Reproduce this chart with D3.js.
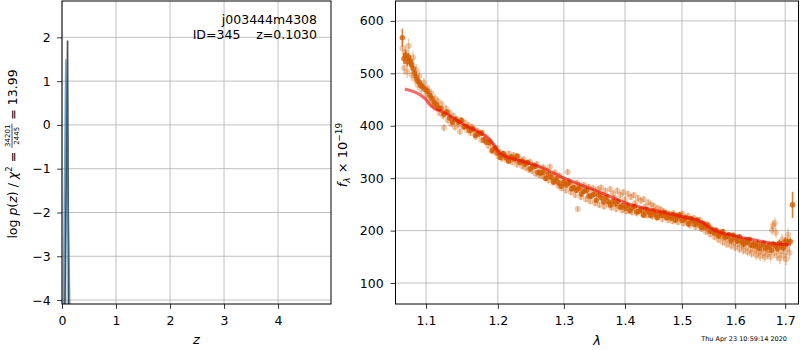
<!DOCTYPE html>
<html>
<head>
<meta charset="utf-8">
<script src="https://cdn.jsdelivr.net/npm/d3@7"></script>
<style>
  body { margin: 0; background: #fff; }
  svg { font-family: "DejaVu Sans", sans-serif; }
  .grid line { stroke: #b0b0b0; stroke-width: 0.8; }
  .axis path { display: none; }
  .axis line { stroke: #000; stroke-width: 0.8; }
  .axis text { font-size: 12.5px; fill: #000; font-family: "DejaVu Sans", sans-serif; }
  .pre { white-space: pre; }
</style>
</head>
<body>
<script>
// ---- left panel: log p(z) ----
var zTicks = [0, 1, 2, 3, 4];
var logpTicks = [-4, -3, -2, -1, 0, 1, 2];
var zFit = [0.03, 0.05, 0.103, 0.125, 0.14];
var logpFit = [-12, -4.6, 1.93, -4.6, -12];
var zPrior = [0.0, 0.02, 0.07, 0.15, 0.17];
var logpPrior = [-12, -4.6, 1.5, -4.6, -12];

// ---- right panel: spectrum ----
var waveTicks = [1.1, 1.2, 1.3, 1.4, 1.5, 1.6, 1.7];
var fluxTicks = [100, 200, 300, 400, 500, 600];

// model line
var modelWave = [1.072, 1.099, 1.105, 1.112, 1.122, 1.132, 1.153, 1.174, 1.188, 1.203, 1.213, 1.237, 1.268,
  1.295, 1.348, 1.404, 1.462, 1.499, 1.535, 1.548, 1.567, 1.599, 1.639, 1.673, 1.709];
var modelFlux = [470, 451, 440, 432, 427, 419, 401, 387, 374, 348, 341, 332, 319,
  303, 278, 252, 236, 227, 217, 208, 198, 190, 182, 176, 173];

// [wave, flux, err] - strong points
var darkPoints = [
  [1.0688,568,17],[1.071,528,10],[1.073,535,9],[1.075,522,9],[1.077,531,8],[1.079,524,8],[1.081,517,8],
  [1.083,509,7],[1.085,500,7],[1.087,493,7],[1.089,486,6],[1.091,483,6],[1.093,477,6],[1.096,474,6],
  [1.099,469,6],[1.102,466,5],[1.105,458,5],[1.108,452,5],[1.111,444,5],[1.114,440,5],[1.117,434,5],
  [1.120,433,5],[1.124,422,5],[1.128,426,5],[1.132,415,5],[1.136,407,5],[1.140,412,5],[1.144,407,5],
  [1.148,410,5],[1.152,398,5],[1.156,398,5],[1.160,391,5],[1.164,394,5],[1.168,382,5],[1.172,385,5],
  [1.176,386,5],[1.180,373,5],[1.184,369,5],[1.188,368,5],[1.192,353,5],[1.196,357,5],[1.200,348,5],
  [1.204,340,5],[1.208,347,5],[1.212,339,5],[1.216,333,5],[1.220,341,5],[1.224,337,5],[1.228,342,5],
  [1.232,331,5],[1.236,332,5],[1.240,327,5],[1.244,330,5],[1.248,318,5],[1.252,322,5],[1.256,323,5],
  [1.260,311,5],[1.264,310,5],[1.268,311,5],[1.272,300,5],[1.276,308,5],[1.280,302,5],[1.284,293,5],
  [1.288,299,5],[1.292,291,5],[1.296,285,5],[1.300,292,5],[1.304,287,5],[1.308,291,5],[1.312,280,5],
  [1.316,282,5],[1.320,277,5],[1.324,281,5],[1.328,270,5],[1.332,275,5],[1.336,277,5],[1.340,266,5],
  [1.344,266,5],[1.348,269,5],[1.352,258,5],[1.356,268,5],[1.360,263,5],[1.364,255,5],[1.368,263,5],
  [1.372,255,5],[1.376,249,5],[1.380,256,5],[1.384,251,5],[1.388,256,5],[1.392,245,5],[1.396,248,5],
  [1.400,243,5],[1.404,248,5],[1.408,238,5],[1.412,243,5],[1.416,246,5],[1.420,236,5],[1.424,237,5],
  [1.428,240,5],[1.432,230,5],[1.436,240,5],[1.440,236,5],[1.444,229,5],[1.448,237,5],[1.452,231,5],
  [1.456,225,5],[1.460,233,5],[1.464,229,5],[1.468,234,5],[1.472,225,5],[1.476,228,5],[1.480,224,5],
  [1.484,230,5],[1.488,220,5],[1.492,227,5],[1.496,230,5],[1.500,220,5],[1.504,221,5],[1.508,224,5],
  [1.512,213,5],[1.516,223,5],[1.520,219,5],[1.524,212,5],[1.528,220,5],[1.532,213,5],[1.536,206,5],
  [1.540,213,5],[1.544,207,5],[1.548,210,5],[1.552,199,5],[1.556,201,5],[1.560,196,5],[1.564,200,5],
  [1.568,190,5],[1.572,195,5],[1.576,198,5],[1.580,188,5],[1.584,189,5],[1.588,192,5],[1.592,181,5],
  [1.596,191,5],[1.600,187,5],[1.604,180,5],[1.608,188,5],[1.612,180,5],[1.616,174,5],[1.620,182,5],
  [1.624,178,5],[1.628,183,5],[1.632,172,5],[1.636,175,5],[1.640,171,5],[1.644,176,5],[1.648,166,5],
  [1.652,173,5],[1.656,176,5],[1.660,167,6],[1.664,169,6],[1.668,172,6],[1.672,163,6],[1.676,174,6],
  [1.680,171,7],[1.684,166,7],[1.688,176,7],[1.692,172,8],[1.696,168,8],[1.700,179,9],[1.704,178,9],
  [1.7103,179,8],[1.7151,249,25]
];

// [wave, flux, err] - faint points
var lightPoints = [
  [1.069,548,14],[1.071,510,13],[1.073,541,13],[1.075,503,12],[1.077,552,14],[1.079,518,12],[1.081,497,11],
  [1.083,530,12],[1.085,489,10],[1.087,507,11],[1.089,478,10],[1.091,495,10],[1.094,470,9],[1.097,482,9],
  [1.100,458,8],[1.102,471,8],[1.1045,449,8],[1.107,462,8],[1.109,441,7],[1.112,452,7],[1.1135,436,7],
  [1.116,447,7],[1.118,425,7],[1.121,441,7],[1.123,419,7],[1.124,396,7],[1.127,433,6],[1.129,411,6],
  [1.132,425,6],[1.134,404,6],[1.137,419,6],[1.139,397,6],[1.141,413,6],[1.144,402,6],[1.146,389,6],
  [1.148,411,6],[1.151,398,6],[1.153,406,6],[1.156,392,6],[1.158,401,6],[1.161,386,6],[1.163,398,6],
  [1.166,392,6],[1.168,379,6],[1.171,390,6],[1.173,384,6],[1.176,373,6],[1.178,386,6],[1.181,370,6],
  [1.183,378,6],[1.186,362,6],[1.188,371,6],[1.191,352,6],[1.193,363,6],[1.196,349,6],[1.198,357,6],
  [1.201,341,6],[1.203,350,6],[1.206,337,6],[1.208,346,6],[1.211,343,6],[1.213,334,6],[1.216,347,6],
  [1.218,336,6],[1.221,331,6],[1.223,344,6],[1.226,335,6],[1.228,326,6],[1.231,340,6],[1.233,330,6],
  [1.236,323,6],[1.238,336,6],[1.241,320,6],[1.243,329,6],[1.246,316,6],[1.248,331,6],[1.251,314,6],
  [1.253,324,6],[1.256,309,6],[1.258,327,6],[1.261,306,6],[1.263,318,6],[1.266,304,6],[1.268,321,6],
  [1.271,300,6],[1.273,314,6],[1.276,296,6],[1.278,322,6],[1.281,303,6],[1.283,292,6],[1.286,311,6],
  [1.288,295,6],[1.291,286,6],[1.293,305,6],[1.296,281,6],[1.298,298,6],[1.301,290,6],[1.303,277,6],
  [1.306,312,6],[1.308,294,6],[1.311,273,6],[1.313,288,6],[1.316,281,6],[1.318,268,6],[1.321,291,6],
  [1.322,241,6],[1.325,284,6],[1.327,264,6],[1.330,279,6],[1.332,287,6],[1.335,260,6],[1.337,276,6],
  [1.340,283,6],[1.342,256,6],[1.345,274,6],[1.347,281,6],[1.350,252,6],[1.352,271,6],[1.355,279,6],
  [1.357,249,6],[1.360,282,6],[1.362,268,6],[1.365,246,6],[1.367,276,6],[1.370,265,6],[1.372,250,6],
  [1.375,279,6],[1.377,244,6],[1.380,271,6],[1.382,262,6],[1.385,241,6],[1.387,276,6],[1.390,247,6],
  [1.392,268,6],[1.395,239,6],[1.397,273,6],[1.400,259,6],[1.402,237,6],[1.405,270,6],[1.407,244,6],
  [1.410,264,6],[1.412,235,6],[1.415,268,6],[1.417,252,6],[1.420,233,6],[1.422,262,6],[1.425,240,6],
  [1.427,257,6],[1.430,231,6],[1.432,260,6],[1.435,246,6],[1.437,229,6],[1.440,254,6],[1.442,236,6],
  [1.445,250,6],[1.447,227,6],[1.450,247,6],[1.452,238,6],[1.455,225,6],[1.457,243,6],[1.460,231,6],
  [1.462,240,6],[1.465,222,6],[1.467,237,6],[1.470,229,6],[1.472,234,6],[1.475,220,6],[1.477,232,6],
  [1.480,226,6],[1.483,218,6],[1.485,233,6],[1.488,224,6],[1.490,229,6],[1.493,216,6],[1.495,227,6],
  [1.498,221,6],[1.501,232,6],[1.503,214,6],[1.506,225,6],[1.509,218,6],[1.511,228,6],[1.514,210,6],
  [1.517,221,6],[1.519,214,6],[1.522,224,6],[1.525,207,6],[1.527,218,6],[1.530,211,6],[1.533,220,6],
  [1.536,203,6],[1.538,214,6],[1.541,206,6],[1.544,198,6],[1.546,212,6],[1.549,201,6],[1.552,193,6],
  [1.554,205,6],[1.557,197,6],[1.560,188,7],[1.562,201,7],[1.565,192,7],[1.568,183,7],[1.570,196,7],
  [1.573,189,7],[1.576,178,7],[1.578,193,7],[1.581,185,7],[1.584,174,7],[1.586,190,7],[1.589,181,7],
  [1.592,171,7],[1.594,187,7],[1.597,178,7],[1.600,168,7],[1.602,184,7],[1.605,175,7],[1.608,165,8],
  [1.611,181,8],[1.613,172,8],[1.616,162,8],[1.619,178,8],[1.621,169,8],[1.624,159,8],[1.627,176,8],
  [1.630,165,8],[1.632,156,8],[1.635,172,8],[1.638,163,8],[1.641,153,9],[1.643,169,9],[1.646,160,9],
  [1.649,151,9],[1.652,166,9],[1.655,157,9],[1.658,149,9],[1.661,164,10],[1.664,155,10],[1.667,163,10],
  [1.670,150,10],[1.673,201,10],[1.675,210,10],[1.677,158,10],[1.679,214,11],[1.681,196,10],[1.683,152,10],
  [1.686,168,11],[1.689,147,11],[1.691,160,11],[1.694,183,11],[1.697,153,12],[1.699,171,12],[1.702,146,12],
  [1.704,165,12],[1.706,192,12],[1.709,158,12]
];

var specColor = "#d55e00";

var svg = d3.select("body").append("svg")
    .attr("width", 800)
    .attr("height", 350);

svg.append("rect").attr("width", 800).attr("height", 350).attr("fill", "#fff");

// panel boxes
var left = {x0: 62, x1: 331, y0: 1, y1: 304};
var right = {x0: 395.5, x1: 798.5, y0: 1, y1: 304};

// scales
var zScale = d3.scaleLinear().domain([0, 4.98]).range([left.x0, left.x1]);
var lpScale = d3.scaleLinear().domain([-4.09, 2.83]).range([left.y1, left.y0]);
var wScale = d3.scaleLog().domain([1.06, 1.7276]).range([right.x0, right.x1]);
var fScale = d3.scaleLinear().domain([60, 638]).range([right.y1, right.y0]);

// clip paths
var defs = svg.append("defs");
defs.append("clipPath").attr("id", "clipL").append("rect")
    .attr("x", left.x0).attr("y", left.y0)
    .attr("width", left.x1 - left.x0).attr("height", left.y1 - left.y0);
defs.append("clipPath").attr("id", "clipR").append("rect")
    .attr("x", right.x0).attr("y", right.y0)
    .attr("width", right.x1 - right.x0).attr("height", right.y1 - right.y0);

// grid
function grid(xs, xTicks, ys, yTicks, box) {
    var g = svg.append("g").attr("class", "grid");
    g.selectAll(".gx").data(xTicks).enter().append("line")
        .attr("x1", function(d) { return xs(d); }).attr("x2", function(d) { return xs(d); })
        .attr("y1", box.y0).attr("y2", box.y1);
    g.selectAll(".gy").data(yTicks).enter().append("line")
        .attr("x1", box.x0).attr("x2", box.x1)
        .attr("y1", function(d) { return ys(d); }).attr("y2", function(d) { return ys(d); });
}
grid(zScale, zTicks, lpScale, logpTicks, left);
grid(wScale, waveTicks, fScale, fluxTicks, right);

// ---- left panel curves ----
var gl = svg.append("g").attr("clip-path", "url(#clipL)");

var priorData = zPrior.map(function(z, i) { return [z, logpPrior[i]]; });
var fitData = zFit.map(function(z, i) { return [z, logpFit[i]]; });

gl.append("path")
    .datum(priorData)
    .attr("fill", "#1f77b4")
    .attr("fill-opacity", 0.25)
    .attr("d", d3.area()
        .x(function(d) { return zScale(d[0]); })
        .y0(lpScale(-4.09))
        .y1(function(d) { return lpScale(d[1]); }));

gl.append("path")
    .datum(fitData)
    .attr("fill", "none")
    .attr("stroke", "#333")
    .attr("stroke-opacity", 0.85)
    .attr("stroke-width", 1.6)
    .attr("d", d3.line()
        .x(function(d) { return zScale(d[0]); })
        .y(function(d) { return lpScale(d[1]); }));

gl.append("path")
    .datum(priorData)
    .attr("fill", "none")
    .attr("stroke", "#1f77b4")
    .attr("stroke-opacity", 0.6)
    .attr("stroke-width", 1.6)
    .attr("d", d3.line()
        .x(function(d) { return zScale(d[0]); })
        .y(function(d) { return lpScale(d[1]); }));

// ---- right panel points ----
var gr = svg.append("g").attr("clip-path", "url(#clipR)");

function drawPoints(data, opacity, radius) {
    var g = gr.append("g");
    g.selectAll("line").data(data).enter().append("line")
        .attr("x1", function(d) { return wScale(d[0]); })
        .attr("x2", function(d) { return wScale(d[0]); })
        .attr("y1", function(d) { return fScale(d[1] - d[2]); })
        .attr("y2", function(d) { return fScale(d[1] + d[2]); })
        .attr("stroke", specColor)
        .attr("stroke-opacity", opacity)
        .attr("stroke-width", 1.5);
    g.selectAll("circle").data(data).enter().append("circle")
        .attr("cx", function(d) { return wScale(d[0]); })
        .attr("cy", function(d) { return fScale(d[1]); })
        .attr("r", radius)
        .attr("fill", specColor)
        .attr("fill-opacity", opacity);
}
drawPoints(lightPoints, 0.32, 3);
drawPoints(darkPoints, 0.8, 2.8);

// model
gr.append("path")
    .datum(modelWave.map(function(w, i) { return [w, modelFlux[i]]; }))
    .attr("fill", "none")
    .attr("stroke", "red")
    .attr("stroke-opacity", 0.6)
    .attr("stroke-width", 3)
    .attr("stroke-linejoin", "round")
    .attr("d", d3.line()
        .curve(d3.curveMonotoneX)
        .x(function(d) { return wScale(d[0]); })
        .y(function(d) { return fScale(d[1]); }));

// ---- axes ----
function frame(box) {
    svg.append("rect")
        .attr("x", box.x0).attr("y", box.y0)
        .attr("width", box.x1 - box.x0).attr("height", box.y1 - box.y0)
        .attr("fill", "none").attr("stroke", "#000").attr("stroke-width", 1);
}

svg.append("g").attr("class", "axis")
    .attr("transform", "translate(0," + left.y1 + ")")
    .call(d3.axisBottom(zScale).tickValues(zTicks).tickFormat(d3.format("d"))
        .tickSize(4.9).tickSizeOuter(0).tickPadding(7));
svg.append("g").attr("class", "axis")
    .attr("transform", "translate(" + left.x0 + ",0)")
    .call(d3.axisLeft(lpScale).tickValues(logpTicks).tickFormat(d3.format("d"))
        .tickSize(4.9).tickSizeOuter(0).tickPadding(6.5));
svg.append("g").attr("class", "axis")
    .attr("transform", "translate(0," + right.y1 + ")")
    .call(d3.axisBottom(wScale).tickValues(waveTicks).tickFormat(d3.format(".1f"))
        .tickSize(4.9).tickSizeOuter(0).tickPadding(7));
svg.append("g").attr("class", "axis")
    .attr("transform", "translate(" + right.x0 + ",0)")
    .call(d3.axisLeft(fScale).tickValues(fluxTicks).tickFormat(d3.format("d"))
        .tickSize(4.9).tickSizeOuter(0).tickPadding(7));

frame(left);
frame(right);

// ---- labels ----
svg.append("text")
    .attr("x", (left.x0 + left.x1) / 2).attr("y", 343.5)
    .attr("text-anchor", "middle")
    .style("font-size", "13px").style("font-style", "italic")
    .text("z");

svg.append("text")
    .attr("x", (right.x0 + right.x1) / 2).attr("y", 345)
    .attr("text-anchor", "middle")
    .style("font-size", "13px").style("font-style", "italic")
    .text("λ");

// object annotation
svg.append("text")
    .attr("x", 317).attr("y", 24)
    .attr("text-anchor", "end")
    .style("font-size", "12.5px")
    .text("j003444m4308");
svg.append("text")
    .attr("class", "pre")
    .attr("x", 317).attr("y", 38.5)
    .attr("text-anchor", "end")
    .style("font-size", "12.5px")
    .text("ID=345    z=0.1030");

// timestamp
svg.append("text")
    .attr("x", 787).attr("y", 341)
    .attr("text-anchor", "end")
    .style("font-size", "6.5px")
    .text("Thu Apr 23 10:59:14 2020");

// left y label with fraction
var yl = svg.append("g").attr("transform", "translate(16.5,154) rotate(-90)");
var part1 = yl.append("text").attr("class", "pre").style("font-size", "12.5px");
part1.append("tspan").text("log ");
part1.append("tspan").style("font-style", "italic").text("p");
part1.append("tspan").text("(");
part1.append("tspan").style("font-style", "italic").text("z");
part1.append("tspan").text(") / ");
part1.append("tspan").style("font-style", "italic").text("χ");
part1.append("tspan").attr("dy", -5).style("font-size", "8.5px").text("2");
part1.append("tspan").attr("dy", 5).text(" = ");
var num = yl.append("text").style("font-size", "7px").attr("text-anchor", "middle").text("34201");
var den = yl.append("text").style("font-size", "7px").attr("text-anchor", "middle").text("2445");
var part3 = yl.append("text").attr("class", "pre").style("font-size", "12.5px").text(" = 13.99");

var w1 = part1.node().getComputedTextLength();
var wf = Math.max(num.node().getComputedTextLength(), den.node().getComputedTextLength()) + 2;
var w3 = part3.node().getComputedTextLength();
var x0 = -(w1 + wf + w3) / 2;
part1.attr("x", x0).attr("y", 0);
num.attr("x", x0 + w1 + wf / 2).attr("y", -6.5);
den.attr("x", x0 + w1 + wf / 2).attr("y", 2.5);
yl.append("line")
    .attr("x1", x0 + w1).attr("x2", x0 + w1 + wf)
    .attr("y1", -4.5).attr("y2", -4.5)
    .attr("stroke", "#000").attr("stroke-width", 0.7);
part3.attr("x", x0 + w1 + wf).attr("y", 0);

// right y label
var yr = svg.append("text")
    .attr("transform", "translate(347,155) rotate(-90)")
    .attr("text-anchor", "middle")
    .style("font-size", "13px");
yr.append("tspan").style("font-style", "italic").text("f");
yr.append("tspan").attr("dy", 3).style("font-size", "9px").style("font-style", "italic").text("λ");
yr.append("tspan").attr("dy", -3).text(" × 10");
yr.append("tspan").attr("dy", -5).style("font-size", "9px").text("−19");
</script>
</body>
</html>
